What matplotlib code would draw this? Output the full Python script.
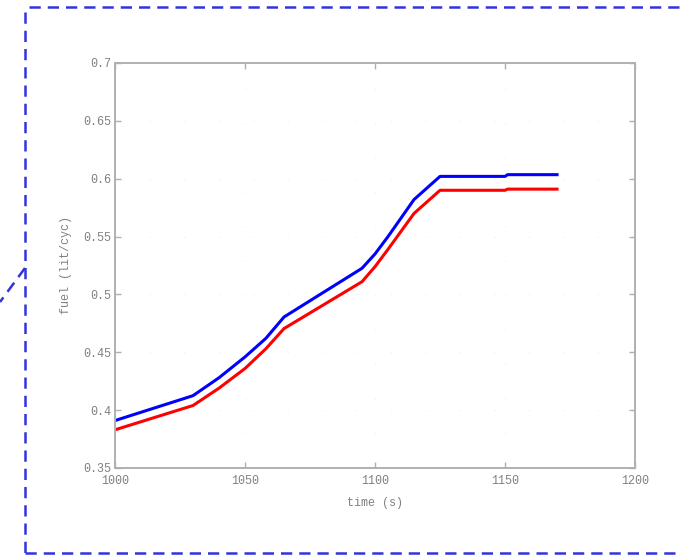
import matplotlib.pyplot as plt
from matplotlib.lines import Line2D

# Fuel consumption over time, two runs
time_blue = [1000, 1030, 1040, 1050, 1058, 1065, 1095, 1100, 1105, 1115, 1125, 1150, 1151, 1170]
fuel_blue = [0.391, 0.4125, 0.428, 0.446, 0.462, 0.4805, 0.5226, 0.535, 0.550, 0.582, 0.602, 0.602, 0.6035, 0.6035]

time_red = [1000, 1030, 1040, 1050, 1058, 1065, 1095, 1100, 1105, 1115, 1125, 1150, 1151, 1170]
fuel_red = [0.383, 0.404, 0.419, 0.436, 0.453, 0.4705, 0.511, 0.524, 0.539, 0.570, 0.590, 0.590, 0.591, 0.591]

xticks = [1000, 1050, 1100, 1150, 1200]
yticks = [0.35, 0.4, 0.45, 0.5, 0.55, 0.6, 0.65, 0.7]
ytick_labels = ["0.35", "0.4", "0.45", "0.5", "0.55", "0.6", "0.65", "0.7"]

grey = "#808080"
font = "Liberation Mono"

fig = plt.figure(figsize=(6.81, 5.57), dpi=100)
ax = fig.add_axes([0.1689, 0.1598, 0.7636, 0.7271])

ax.plot(time_blue, fuel_blue, color="#0000ff", linewidth=2.2)
ax.plot(time_red, fuel_red, color="#ff0000", linewidth=2.2)

ax.set_xlim(1000, 1200)
ax.set_ylim(0.35, 0.7)
ax.set_xticks(xticks)
ax.set_yticks(yticks)
ax.set_yticklabels(ytick_labels)

# faint dotted grid, barely visible like the original
ax.grid(True, color="#eeeeee", linestyle=(0, (1, 30)), linewidth=0.8)

for side in ax.spines.values():
    side.set_color("#b0b0b0")
    side.set_linewidth(1.4)

ax.tick_params(direction="in", top=True, right=True, length=4, width=1,
               color="#b0b0b0", labelcolor=grey, labelsize=8.5, pad=3)
ax.tick_params(axis="x", pad=5)
for lbl in ax.get_xticklabels() + ax.get_yticklabels():
    lbl.set_fontfamily(font)

ax.set_xlabel("time (s)", fontsize=8.5, color=grey, fontfamily=font, labelpad=7)
ax.set_ylabel("fuel (lit/cyc)", fontsize=8.5, color=grey, fontfamily=font, labelpad=8)

# dashed frame around the figure (part of a larger diagram)
W, H = 681.0, 557.0
dash = dict(color="#3333dd", linewidth=1.8, linestyle=(0, (4.5, 2.8)))
fig.add_artist(Line2D([25 / W, 25 / W], [1 - 12 / H, 1 - 553 / H], **dash))
fig.add_artist(Line2D([29 / W, 1.0], [1 - 7 / H, 1 - 7 / H], **dash))
fig.add_artist(Line2D([25 / W, 1.0], [1 - 553 / H, 1 - 553 / H], **dash))
fig.add_artist(Line2D([25 / W, 0.0], [1 - 268 / H, 1 - 302 / H], **dash))

fig.savefig("out.png", dpi=100)
